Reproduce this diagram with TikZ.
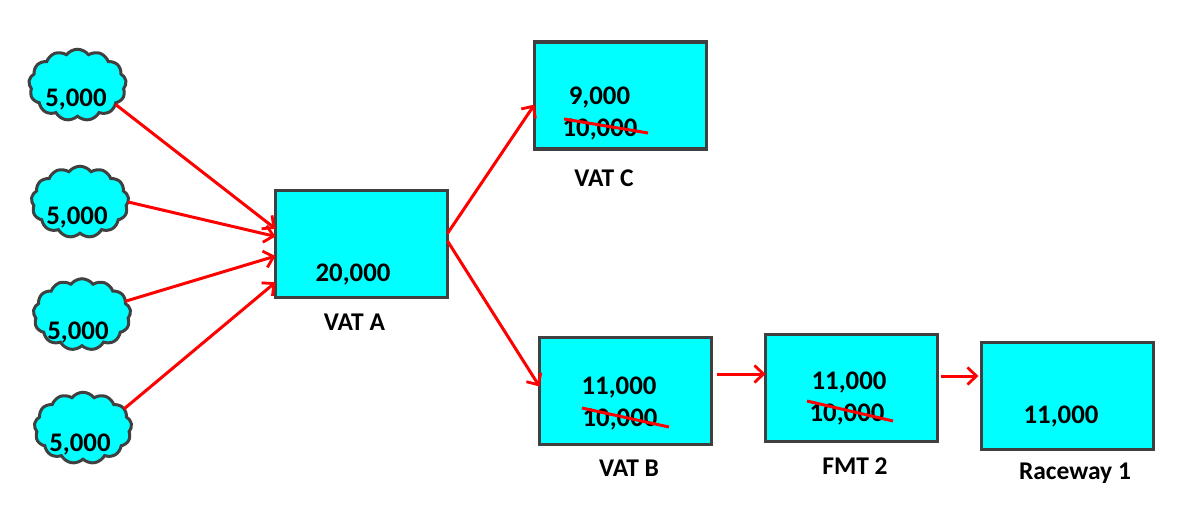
\documentclass[tikz,border=0pt]{standalone}
\usepackage{fontspec}
\setmainfont{Carlito}
\usetikzlibrary{arrows.meta,shapes.symbols}
\definecolor{boxedge}{HTML}{404040}
\definecolor{aqua}{HTML}{00FFFF}
\definecolor{redline}{HTML}{FF0000}
\tikzset{
  tank/.style={draw=boxedge,line width=3.3pt,fill=aqua,minimum width=172pt,minimum height=107pt,inner sep=0pt,outer sep=0pt},
  puff/.style={cloud,cloud puffs=13,cloud puff arc=105,aspect=1.35,draw=boxedge,line width=3pt,fill=aqua,minimum width=97.5pt,minimum height=71.5pt,inner sep=0pt,outer sep=0pt},
  num/.style={inner sep=0pt,font=\fontsize{26.8}{28}\selectfont\bfseries,text=black},
  lbl/.style={inner sep=0pt,font=\fontsize{25.5}{28}\selectfont\bfseries,text=black},
  flow/.style={redline,line width=3pt,-{Straight Barb[length=9pt,width=17pt,line width=2.8pt]}},
  strike/.style={redline,line width=3pt}
}
\begin{document}
\begin{tikzpicture}[x=1pt,y=-1pt]
\useasboundingbox (0,0) rectangle (1179,528);
% clouds
\node[puff] (c1) at (77.5,85) {};
\node[puff] (c2) at (80,202) {};
\node[puff] (c3) at (82,314.5) {};
\node[puff] (c4) at (83,428) {};
\node[num] (t1) at (76,99.5) {5,000};
\node[num] (t2) at (77,217.5) {5,000};
\node[num] (t3) at (78,332.5) {5,000};
\node[num] (t4) at (80,444.5) {5,000};
% boxes
\node[tank] (vata) at (361.5,244) {};
\node[tank] (vatc) at (620.5,95.5) {};
\node[tank] (vatb) at (625.5,391) {};
\node[tank] (fmt) at (851.5,388) {};
\node[tank] (race) at (1067.5,396) {};
% box numbers
\node[num] (na) at (353,274.5) {20,000};
\node[num] (nc1) at (599.5,97.5) {9,000};
\node[num] (nc2) at (600,129.5) {10,000};
\node[num] (nb1) at (619,387.5) {11,000};
\node[num] (nb2) at (620,419.5) {10,000};
\node[num] (nf1) at (849,382.5) {11,000};
\node[num] (nf2) at (847,414.5) {10,000};
\node[num] (nr) at (1061,416.5) {11,000};
% labels
\node[lbl] (la) at (354.5,322) {VAT A};
\node[lbl] (lc) at (604,178) {VAT C};
\node[lbl] (lb) at (629,468) {VAT B};
\node[lbl] (lf) at (855,466) {FMT 2};
\node[lbl] (lr) at (1075,473) {Raceway 1};
% strikes
\draw[strike] (564,119) -- (648,133);
\draw[strike] (582,408) -- (669,427);
\draw[strike] (807,401) -- (893,421);
% connectors
\draw[flow] (c1.-27) -- (vata.170.8);
\draw[flow] (c2.0) -- (vata.175.4);
\draw[flow] (c3.17) -- (vata.188.5);
\draw[flow] (c4.25) -- (vata.204.8);
\draw[flow] (vata.7) -- (vatc.186.9);
\draw[flow] (vata.2.6) -- (vatb.177.3);
\draw[flow,shorten <=5pt] (vatb.east |- 0,374) -- (fmt.west |- 0,374);
\draw[flow,shorten <=3pt,shorten >=3pt] (fmt.east |- 0,376) -- (race.west |- 0,376);
\end{tikzpicture}
\end{document}
